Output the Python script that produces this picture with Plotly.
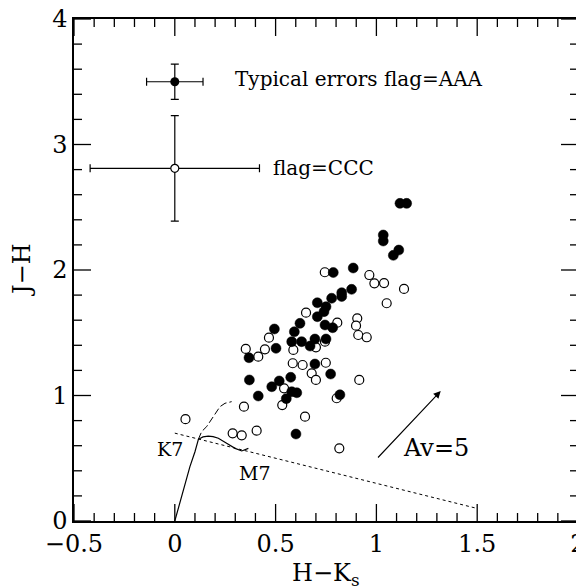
import plotly.graph_objects as go

# ---- data ----
filled_hk = [1.117, 1.150, 1.034, 1.034, 1.111, 1.084, 0.885, 0.786, 0.877, 0.828,
             0.828, 0.778, 0.707, 0.750, 0.740, 0.707, 0.621, 0.745, 0.783, 0.494,
             0.593, 0.580, 0.629, 0.695, 0.750, 0.671, 0.502, 0.368, 0.695, 0.773,
             0.370, 0.518, 0.575, 0.481, 0.580, 0.605, 0.553, 0.414, 0.819, 0.601]
filled_jh = [2.531, 2.531, 2.279, 2.231, 2.159, 2.117, 2.016, 1.980, 1.846, 1.819,
             1.789, 1.775, 1.739, 1.708, 1.668, 1.628, 1.575, 1.562, 1.540, 1.530,
             1.508, 1.429, 1.429, 1.450, 1.450, 1.394, 1.376, 1.301, 1.251, 1.171,
             1.124, 1.116, 1.145, 1.070, 1.030, 1.022, 0.975, 0.996, 1.006, 0.693]

open_hk = [0.744, 0.965, 0.990, 1.038, 1.137, 1.051, 0.651, 0.806, 0.905, 0.899,
           0.910, 0.952, 0.745, 0.467, 0.352, 0.447, 0.414, 0.588, 0.700, 0.585,
           0.634, 0.749, 0.679, 0.700, 0.915, 0.542, 0.533, 0.343, 0.803, 0.646,
           0.287, 0.332, 0.406, 0.816, 0.053]
open_jh = [1.982, 1.960, 1.894, 1.896, 1.849, 1.735, 1.660, 1.580, 1.615, 1.556,
           1.482, 1.464, 1.429, 1.461, 1.371, 1.368, 1.309, 1.363, 1.384, 1.257,
           1.243, 1.261, 1.177, 1.124, 1.124, 1.057, 0.924, 0.911, 0.978, 0.831,
           0.699, 0.683, 0.720, 0.579, 0.811]

# typical error bars
err_aaa = dict(x=0.0, y=3.50, dx=0.14, dy=0.14)
err_ccc = dict(x=0.0, y=2.81, dx=0.42, dy=0.42)

# dwarf sequence (solid)
dwarf_hk = [0.0, 0.042, 0.075, 0.100, 0.117, 0.140, 0.166, 0.190, 0.216, 0.257, 0.299, 0.332, 0.365]
dwarf_jh = [0.0, 0.247, 0.433, 0.552, 0.651, 0.670, 0.677, 0.672, 0.659, 0.619, 0.579, 0.558, 0.579]
# giant branch (dashed)
giant_hk = [0.117, 0.133, 0.158, 0.199, 0.224, 0.249, 0.282]
giant_jh = [0.651, 0.712, 0.752, 0.845, 0.911, 0.938, 0.951]
# dotted line
dot_hk = [0.0, 1.5]
dot_jh = [0.70, 0.10]
# reddening vector Av=5
av_tail = (1.001, 0.494)
av_head = (1.319, 1.036)

x_ticks = [-0.5, 0, 0.5, 1, 1.5, 2]
x_ticktext = ["\u22120.5", "0", "0.5", "1", "1.5", "2"]
y_ticks = [0, 1, 2, 3, 4]
y_ticktext = ["0", "1", "2", "3", "4"]
x_range = [-0.5, 2]
y_range = [0, 4]
x_minor_step = 0.1
y_minor_step = 0.2

FONT = "DejaVu Serif"
W, H = 584, 588
M = dict(l=66, r=14, t=11, b=75)
MAJOR_LEN, MINOR_LEN = 17, 8  # tick lengths in pixels

# data units per pixel, from the plot-area size
x_per_px = (x_range[1] - x_range[0]) / (W - M["l"] - M["r"])
y_per_px = (y_range[1] - y_range[0]) / (H - M["t"] - M["b"])


def frange(a, b, step):
    n = int(round((b - a) / step))
    return [round(a + i * step, 6) for i in range(n + 1)]


fig = go.Figure()

# inside tick marks on all four sides, as one line trace with gaps
tx, ty = [], []
for xv in frange(x_range[0], x_range[1], x_minor_step):
    ln = MAJOR_LEN if any(abs(xv - t) < 1e-6 for t in x_ticks) else MINOR_LEN
    tx += [xv, xv, None, xv, xv, None]
    ty += [y_range[0], y_range[0] + ln * y_per_px, None,
           y_range[1], y_range[1] - ln * y_per_px, None]
for yv in frange(y_range[0], y_range[1], y_minor_step):
    ln = MAJOR_LEN if any(abs(yv - t) < 1e-6 for t in y_ticks) else MINOR_LEN
    ty += [yv, yv, None, yv, yv, None]
    tx += [x_range[0], x_range[0] + ln * x_per_px, None,
           x_range[1], x_range[1] - ln * x_per_px, None]
fig.add_trace(go.Scatter(x=tx, y=ty, mode="lines", line=dict(color="black", width=1.3),
                         connectgaps=False, hoverinfo="skip", showlegend=False, cliponaxis=False))

fig.add_trace(go.Scatter(x=dwarf_hk, y=dwarf_jh, mode="lines",
                         line=dict(color="black", width=1.2), showlegend=False))
fig.add_trace(go.Scatter(x=giant_hk, y=giant_jh, mode="lines",
                         line=dict(color="black", width=1.0, dash="7px,3px"), showlegend=False))
fig.add_trace(go.Scatter(x=dot_hk, y=dot_jh, mode="lines",
                         line=dict(color="black", width=1.0, dash="dot"), showlegend=False))

fig.add_trace(go.Scatter(x=open_hk, y=open_jh, mode="markers",
                         marker=dict(symbol="circle", size=9, color="white",
                                     line=dict(color="black", width=1.2)), showlegend=False))
fig.add_trace(go.Scatter(x=filled_hk, y=filled_jh, mode="markers",
                         marker=dict(symbol="circle", size=10, color="black",
                                     line=dict(color="black", width=0.5)), showlegend=False))

fig.add_trace(go.Scatter(x=[err_aaa["x"]], y=[err_aaa["y"]], mode="markers",
                         marker=dict(symbol="circle", size=9, color="black"),
                         error_x=dict(type="constant", value=err_aaa["dx"], color="black", thickness=1.2, width=4),
                         error_y=dict(type="constant", value=err_aaa["dy"], color="black", thickness=1.2, width=4),
                         showlegend=False))
fig.add_trace(go.Scatter(x=[err_ccc["x"]], y=[err_ccc["y"]], mode="markers",
                         marker=dict(symbol="circle", size=8, color="white",
                                     line=dict(color="black", width=1.2)),
                         error_x=dict(type="constant", value=err_ccc["dx"], color="black", thickness=1.2, width=4),
                         error_y=dict(type="constant", value=err_ccc["dy"], color="black", thickness=1.2, width=4),
                         showlegend=False))

ann_font = dict(family=FONT, size=20, color="black")
fig.add_annotation(x=0.29, y=3.52, text="Typical errors flag=AAA", showarrow=False,
                   xanchor="left", yanchor="middle", font=ann_font)
fig.add_annotation(x=0.477, y=2.81, text="flag=CCC", showarrow=False,
                   xanchor="left", yanchor="middle", font=ann_font)
fig.add_annotation(x=-0.024, y=0.571, text="K7", showarrow=False,
                   xanchor="center", yanchor="middle", font=dict(family=FONT, size=19, color="black"))
fig.add_annotation(x=0.398, y=0.385, text="M7", showarrow=False,
                   xanchor="center", yanchor="middle", font=dict(family=FONT, size=19, color="black"))
fig.add_annotation(x=1.296, y=0.58, text="Av=5", showarrow=False,
                   xanchor="center", yanchor="middle", font=dict(family=FONT, size=24, color="black"))
fig.add_annotation(x=av_head[0], y=av_head[1], ax=av_tail[0], ay=av_tail[1],
                   xref="x", yref="y", axref="x", ayref="y", text="", showarrow=True,
                   arrowhead=2, arrowsize=1.3, arrowwidth=1.1, arrowcolor="black")

# axis titles as annotations for exact placement
fig.add_annotation(x=0.5, y=0, xref="paper", yref="paper", yshift=-36,
                   text="H\u2212K<sub>s</sub>", showarrow=False, xanchor="center", yanchor="top",
                   font=dict(family=FONT, size=24, color="black"))
fig.add_annotation(x=0, y=0.5, xref="paper", yref="paper", xshift=-52,
                   text="J\u2212H", showarrow=False, xanchor="center", yanchor="middle", textangle=-90,
                   font=dict(family=FONT, size=24, color="black"))

axis_common = dict(showgrid=False, zeroline=False, showline=True, linecolor="black",
                   linewidth=1.5, mirror=True, ticks="", automargin=False,
                   ticklabeloverflow="allow",
                   tickfont=dict(family=FONT, size=24, color="black"))

fig.update_xaxes(range=x_range, tickmode="array", tickvals=x_ticks, ticktext=x_ticktext,
                 **axis_common)
fig.update_yaxes(range=y_range, tickmode="array", tickvals=y_ticks, ticktext=y_ticktext,
                 **axis_common)

fig.update_layout(width=W, height=H, margin=M,
                  plot_bgcolor="white", paper_bgcolor="white", showlegend=False)

fig.write_html("out.html")
